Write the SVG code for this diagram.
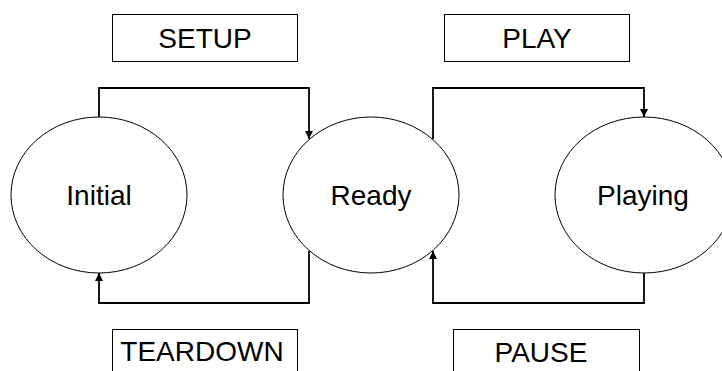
<svg xmlns="http://www.w3.org/2000/svg" width="722" height="371" viewBox="0 0 722 371">
<style>
.st{fill:#fff;stroke:#000;stroke-width:1}
.lb{fill:#fff;stroke:#000;stroke-width:1}
.t{font-family:"Liberation Sans",Arial,sans-serif;font-size:28px;fill:#000;text-anchor:middle}
.c{fill:none;stroke:#000;stroke-width:1.8}
</style>
<defs>
<marker id="ah" viewBox="0 0 10 10" refX="10" refY="5" markerWidth="10" markerHeight="8" markerUnits="userSpaceOnUse" orient="auto">
<path d="M0,0 L10,5 L0,10 z" fill="#000"/>
</marker>
</defs>
<rect width="722" height="371" fill="#fff"/>
<g id="connectors">
<path class="c" d="M99,117 V88 H309 V139" marker-end="url(#ah)"/>
<path class="c" d="M433,139 V88 H644 V117" marker-end="url(#ah)"/>
<path class="c" d="M309,251 V303 H99 V273" marker-end="url(#ah)"/>
<path class="c" d="M644,273 V303 H433 V251" marker-end="url(#ah)"/>
</g>
<g id="initial">
<ellipse class="st" cx="99" cy="195" rx="88" ry="78"/>
<text class="t" x="99" y="205">Initial</text>
</g>
<g id="ready">
<ellipse class="st" cx="371" cy="195" rx="88" ry="78"/>
<text class="t" x="371" y="205">Ready</text>
</g>
<g id="playing">
<ellipse class="st" cx="644" cy="195" rx="89" ry="78"/>
<text class="t" x="643" y="205">Playing</text>
</g>
<g id="setup">
<rect class="lb" x="112.5" y="14.5" width="185" height="47"/>
<text class="t" x="205" y="48">SETUP</text>
</g>
<g id="play">
<rect class="lb" x="444.5" y="14.5" width="185" height="47"/>
<text class="t" x="537" y="48">PLAY</text>
</g>
<g id="teardown">
<rect class="lb" x="112.5" y="329.5" width="185" height="47"/>
<text class="t" x="202" y="361">TEARDOWN</text>
</g>
<g id="pause">
<rect class="lb" x="453.5" y="329.5" width="186" height="47"/>
<text class="t" x="541" y="362">PAUSE</text>
</g>
</svg>
